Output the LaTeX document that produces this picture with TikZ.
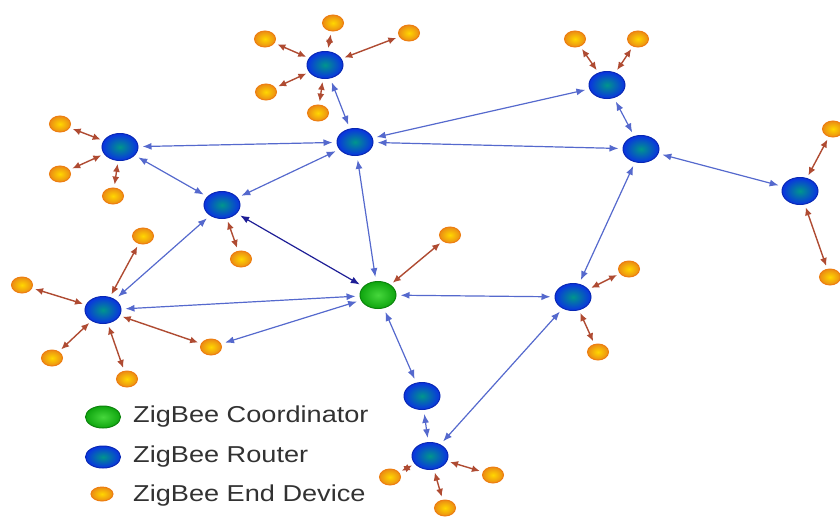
\documentclass[tikz,border=0pt]{standalone}
\usepackage{fontspec}
\setmainfont{Liberation Sans}
\usetikzlibrary{shapes.geometric,arrows.meta}

\definecolor{routerblue}{RGB}{10,50,225}
\definecolor{routerteal}{RGB}{0,150,140}
\definecolor{coordgreen}{RGB}{15,165,15}
\definecolor{coordlight}{RGB}{70,215,60}
\definecolor{devorange}{RGB}{235,140,20}
\definecolor{devyellow}{RGB}{255,215,0}
\definecolor{linkblue}{RGB}{85,105,205}
\definecolor{linknavy}{RGB}{30,30,150}
\definecolor{linkred}{RGB}{175,75,50}
\definecolor{keygray}{RGB}{50,50,50}

\tikzset{
    router/.style={ellipse, draw=routerblue!80!black, line width=1pt, inner color=routerteal, outer color=routerblue, minimum width=36pt, minimum height=27pt, inner sep=0pt},
    coordinator/.style={ellipse, draw=coordgreen!80!black, line width=1pt, inner color=coordlight, outer color=coordgreen, minimum width=36pt, minimum height=27pt, inner sep=0pt},
    enddevice/.style={ellipse, draw=devorange!90!red, line width=1pt, inner color=devyellow, outer color=devorange, minimum width=21pt, minimum height=16pt, inner sep=0pt},
    link/.style={linkblue, line width=1.2pt, {Latex[length=9pt,width=7pt]}-{Latex[length=9pt,width=7pt]}, shorten <=4pt, shorten >=4pt},
    devlink/.style={linkred, line width=1.4pt, {Latex[length=8pt,width=7pt]}-{Latex[length=8pt,width=7pt]}, shorten <=3pt, shorten >=3pt},
    keytext/.style={anchor=west, inner sep=0pt, text=keygray, font=\fontsize{23}{27}\selectfont, xscale=1.18, transform shape}
}

\begin{document}
\begin{tikzpicture}[x=1pt, y=-1pt]
    \useasboundingbox (0,0) rectangle (840,517);
    % routers and the coordinator
    \foreach \n/\x/\y in {rA/325/65, rB/120/147, rC/355/142, rD/222/205, rE/103/310, rF/607/85,
                          rG/641/149, rH/800/191, rI/573/297, rJ/422/396, rK/430/456}
        {\node[router] (\n) at (\x,\y) {};}
    \node[coordinator] (co) at (378,295) {};
    % end devices
    \foreach \n/\x/\y in {e1/265/39, e2/333/23, e3/409/33, e4/266/92, e5/318/113, e6/60/124,
                          e7/60/174, e8/113/196, e9/241/259, e10/143/236, e11/22/285, e12/52/358,
                          e13/127/379, e14/211/347, e15/450/235, e16/575/39, e17/638/39, e18/833/129,
                          e19/830/277, e20/629/269, e21/598/352, e22/390/477, e23/493/475, e24/445/508}
        {\node[enddevice] (\n) at (\x,\y) {};}

    % router links
    \foreach \a/\b in {rA/rC, rB/rC, rB/rD, rD/rC, rC/rF, rC/rG, rC/co, rE/rD, rE/co, e14/co,
                       co/rI, co/rJ, rJ/rK, rI/rK, rG/rI, rF/rG, rG/rH}
        {\draw[link] (\a) -- (\b);}
    \draw[link, linknavy] (rD) -- (co);

    % end device links
    \foreach \d/\r in {e1/rA, e2/rA, e3/rA, e4/rA, e5/rA, e6/rB, e7/rB, e8/rB, e9/rD, e10/rE,
                       e11/rE, e12/rE, e13/rE, e14/rE, e15/co, e16/rF, e17/rF, e18/rH, e19/rH,
                       e20/rI, e21/rI, e22/rK, e23/rK, e24/rK}
        {\draw[devlink] (\d) -- (\r);}

    % key
    \node[coordinator, minimum width=35pt, minimum height=22pt] (keyC) at (103,417) {};
    \node[router, minimum width=35pt, minimum height=22pt] (keyR) at (103,457) {};
    \node[enddevice, minimum width=22pt, minimum height=14pt] (keyE) at (102,494) {};
    \node[keytext] (keyCtext) at (133,417) {ZigBee Coordinator};
    \node[keytext] (keyRtext) at (133,457) {ZigBee Router};
    \node[keytext] (keyEtext) at (133,496) {ZigBee End Device};
\end{tikzpicture}
\end{document}
